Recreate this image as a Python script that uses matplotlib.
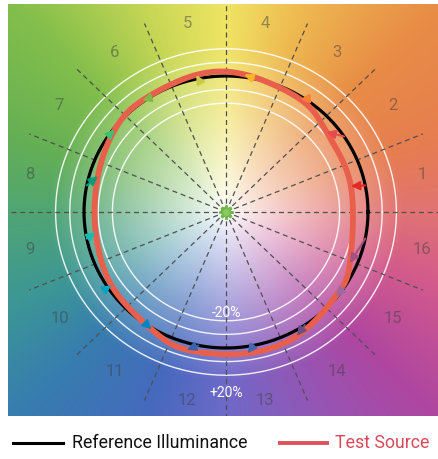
import numpy as np
import matplotlib
matplotlib.use("Agg")
import matplotlib.pyplot as plt
from matplotlib.lines import Line2D

# TM-30 style colour vector graphic, 16 hue bins
hue_bins = [str(i) for i in range(1, 17)]
# relative chroma change of the test source per bin (test / reference - 1)
chroma_shift = [-0.10, -0.08, -0.02, 0.02, 0.03, 0.01, -0.01, -0.06,
                -0.07, -0.03, 0.01, 0.05, 0.05, 0.04, -0.01, -0.05]
# hue shift of the test source per bin (degrees)
hue_shift = [1, 6, 1.5, 4, 0.5, 2, -4, -5, -2, 0, 2.5, -4, -3, -5, -5, -12]
bin_colors = ["#E62828", "#E74B4B", "#FB812E", "#FFB529", "#CBCA46", "#7EB94C",
              "#41C06D", "#009C7C", "#16BCB0", "#00A4BF", "#0085C3", "#3B62AA",
              "#4568AE", "#6A4E85", "#9D69A1", "#A74F81"]
ring_levels = [0.8, 0.9, 1.1, 1.2]
ring_labels = {"-20%": 0.74, "+20%": 1.33}

# background hue wheel (anchor colours by angle)
bg_angles = [0, 20, 45, 70, 90, 110, 135, 160, 180, 205, 225, 250, 270, 295, 315, 340, 360]
bg_rgb = np.array([(225, 115, 115), (230, 125, 80), (232, 140, 70), (238, 185, 80),
                   (240, 228, 100), (200, 215, 85), (130, 190, 75), (100, 175, 85),
                   (80, 165, 115), (60, 150, 150), (55, 125, 175), (70, 105, 190),
                   (110, 105, 200), (150, 85, 180), (175, 70, 160), (210, 90, 140),
                   (225, 115, 115)]) / 255.0

fig = plt.figure(figsize=(4.38, 4.59), dpi=100)
ax = fig.add_axes([8 / 438, 1 - 416 / 459, 430 / 438, 412 / 459])
x0, x1 = -218 / 142, 212 / 142
y0, y1 = -204 / 136, 208 / 136
ax.set_xlim(x0, x1)
ax.set_ylim(y0, y1)
ax.set_aspect("auto")
ax.axis("off")

# background image
xx, yy = np.meshgrid(np.linspace(x0, x1, 430), np.linspace(y0, y1, 412))
rr = np.hypot(xx, yy)
aa = np.degrees(np.arctan2(yy, xx)) % 360
img = np.zeros(xx.shape + (3,))
s = np.clip(rr / 1.25, 0, 1) ** 0.85
for k in range(3):
    ch = np.interp(aa, bg_angles, bg_rgb[:, k])
    img[..., k] = 1 - s * (1 - ch)
ax.imshow(img, extent=[x0, x1, y0, y1], origin="lower", aspect="auto",
          interpolation="bilinear", zorder=0)

t = np.linspace(0, 2 * np.pi, 400)
for lev in ring_levels:
    ax.plot(lev * np.cos(t), lev * np.sin(t), color="white", lw=1.0, alpha=0.9, zorder=1)

# bin boundary lines
for k in range(16):
    a = np.radians(k * 22.5)
    L = 1.6 if k % 4 == 0 else 1.5
    ax.plot([0, L * np.cos(a)], [0, L * np.sin(a)], color="#505050", lw=0.9,
            ls=(0, (4, 3)), zorder=2)

# reference circle
ax.plot(np.cos(t), np.sin(t), color="black", lw=2.3, zorder=3)

# test source points
centers = np.radians((np.arange(16) + 0.5) * 22.5)
tr = 1 + np.array(chroma_shift)
ta = centers + np.radians(hue_shift)
P = np.column_stack([tr * np.cos(ta), tr * np.sin(ta)])

# closed Catmull-Rom curve through the test points
u = np.linspace(0, 1, 25)[:, None]
pts = []
n = len(P)
for i in range(n):
    p0, p1, p2, p3 = P[i - 1], P[i], P[(i + 1) % n], P[(i + 2) % n]
    seg = 0.5 * (2 * p1 + (-p0 + p2) * u + (2 * p0 - 5 * p1 + 4 * p2 - p3) * u ** 2
                 + (-p0 + 3 * p1 - 3 * p2 + p3) * u ** 3)
    pts.append(seg)
curve = np.vstack(pts)
ax.plot(curve[:, 0], curve[:, 1], color="#E8604C", lw=4.2, zorder=4,
        solid_capstyle="round")

# arrows from reference to test
for i in range(16):
    ref = (np.cos(centers[i]), np.sin(centers[i]))
    ax.annotate("", xy=P[i], xytext=ref, zorder=5,
                arrowprops=dict(arrowstyle="-|>", color=bin_colors[i], lw=1.5,
                                mutation_scale=13, shrinkA=0, shrinkB=0))

ax.plot([0], [0], marker=(8, 2, 0), color="#6fb94a", ms=10, mew=2, zorder=6)
ax.plot([0], [0], marker="o", color="#8cc860", ms=4, zorder=6)

# hue bin numbers
for i, lab in enumerate(hue_bins):
    ax.text(1.41 * np.cos(centers[i]), 1.41 * np.sin(centers[i]), lab,
            ha="center", va="center", fontsize=12, color="#404040", alpha=0.5,
            family="Roboto", zorder=6)

for lab, r in ring_labels.items():
    ax.text(0, -r, lab, ha="center", va="center", fontsize=10, color="white",
            family="Roboto", zorder=6)

# legend
yl = 1 - 443 / 459
fig.add_artist(Line2D([13 / 438, 63 / 438], [yl, yl], color="black", lw=2.2))
fig.text(72 / 438, yl, "Reference Illuminance", ha="left", va="center",
         fontsize=12.8, family="Roboto", color="#111111")
fig.add_artist(Line2D([280 / 438, 327 / 438], [yl, yl], color="#E0505A", lw=2.8))
fig.text(335 / 438, yl, "Test Source", ha="left", va="center",
         fontsize=12.8, family="Roboto", color="#D84A5A")

fig.savefig("out.png", dpi=100)
